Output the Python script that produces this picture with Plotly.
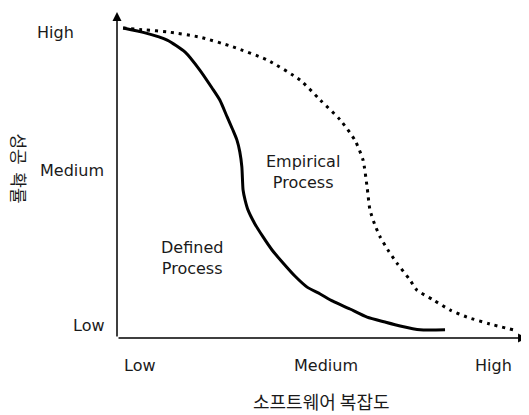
import plotly.graph_objects as go

# Data (complexity 0-100, success probability 0-100)
defined_x = [1.5, 6.9, 12.3, 16.7, 20.3, 23.3, 25.2, 27.0, 28.4, 29.4, 30.1, 30.6, 30.9, 31.4, 32.1,
             33.8, 35.8, 38.0, 40.7, 43.6, 46.6, 49.8, 52.9, 57.1, 61.3, 65.7, 69.4, 74.3, 80.4]
defined_y = [95.1, 93.6, 91.4, 87.7, 82.2, 76.7, 73.0, 67.8, 63.8, 60.7, 57.1, 52.5, 45.4, 42.3, 39.3,
             35.0, 31.0, 27.0, 23.0, 19.0, 15.6, 13.5, 11.3, 8.9, 6.4, 4.9, 3.7, 2.5, 2.5]

empirical_x = [1.5, 6.9, 12.3, 20.3, 28.4, 36.8, 44.9, 49.8, 54.7, 58.3, 60.3, 61.3, 62.0, 63.2, 64.5,
               66.4, 68.6, 71.8, 73.5, 77.5, 81.6, 85.8, 91.4, 97.1]
empirical_y = [95.1, 94.5, 93.9, 92.3, 89.3, 85.3, 79.1, 73.0, 66.9, 60.7, 54.6, 46.3, 39.3, 34.7, 31.0,
               27.0, 23.0, 17.8, 14.7, 11.7, 8.6, 6.4, 4.3, 2.5]

x_tick_labels = ["Low", "Medium", "High"]
x_tick_pos = [5.6, 51.2, 92.2]
y_tick_labels = ["High", "Medium", "Low"]
y_tick_pos = [93.6, 51.5, 3.7]
y_tick_xpos = [-15.0, -11.0, -6.9]

x_title = "소프트웨어 복잡도"
y_title = "성공\u00a0\u00a0확률"

FONT = "DejaVu Sans"
KFONT = "Noto Sans CJK KR"
TXT = "#1a1a1a"

fig = go.Figure()
fig.add_trace(go.Scatter(x=defined_x, y=defined_y, mode="lines",
                         line=dict(color="black", width=3, shape="spline", smoothing=0.6),
                         hoverinfo="skip", cliponaxis=False))
fig.add_trace(go.Scatter(x=empirical_x, y=empirical_y, mode="lines",
                         line=dict(color="black", width=3, dash="3px,5px", shape="spline", smoothing=0.6),
                         hoverinfo="skip", cliponaxis=False))


def p(v):
    # data units (0-100 on both axes) -> paper fraction
    return v / 100.0


ann = []
# axes with arrowheads
ann.append(dict(x=100.5, y=0, ax=0, ay=0, xref="x", yref="y", axref="x", ayref="y", text="",
                showarrow=True, arrowhead=2, arrowsize=1.2, arrowwidth=1.5, arrowcolor="black", standoff=0))
ann.append(dict(x=0, y=100.0, ax=0, ay=0, xref="x", yref="y", axref="x", ayref="y", text="",
                showarrow=True, arrowhead=2, arrowsize=1.2, arrowwidth=1.5, arrowcolor="black", standoff=0))

for t, v in zip(x_tick_labels, x_tick_pos):
    ann.append(dict(x=p(v), y=p(-8.3), xref="paper", yref="paper", text=t, showarrow=False,
                    font=dict(family=FONT, size=16, color=TXT), xanchor="center", yanchor="middle"))
for t, v, xv in zip(y_tick_labels, y_tick_pos, y_tick_xpos):
    ann.append(dict(x=p(xv), y=p(v), xref="paper", yref="paper", text=t, showarrow=False,
                    font=dict(family=FONT, size=16, color=TXT), xanchor="center", yanchor="middle"))

ann.append(dict(x=p(45.6), y=p(50.9), xref="paper", yref="paper", text="Empirical<br>Process", showarrow=False,
                font=dict(family=FONT, size=16, color=TXT), align="center",
                xanchor="center", yanchor="middle"))
ann.append(dict(x=p(18.4), y=p(24.5), xref="paper", yref="paper", text="Defined<br>Process", showarrow=False,
                font=dict(family=FONT, size=16, color=TXT), align="center",
                xanchor="center", yanchor="middle"))

ann.append(dict(x=p(50.2), y=p(-19.3), xref="paper", yref="paper", text=x_title, showarrow=False,
                font=dict(family=KFONT, size=18, color=TXT), xanchor="center", yanchor="middle"))
ann.append(dict(x=p(-24.0), y=p(52.0), xref="paper", yref="paper", text=y_title, showarrow=False, textangle=90,
                font=dict(family=KFONT, size=17, color=TXT), xanchor="center", yanchor="middle"))

fig.update_layout(
    width=521, height=407,
    margin=dict(l=109, r=4, t=4, b=77),
    paper_bgcolor="white", plot_bgcolor="white",
    showlegend=False,
    annotations=ann,
    xaxis=dict(range=[0, 100], showgrid=False, zeroline=False, showticklabels=False, showline=False, fixedrange=True),
    yaxis=dict(range=[0, 100], showgrid=False, zeroline=False, showticklabels=False, showline=False, fixedrange=True),
)

fig.write_html("out.html")
